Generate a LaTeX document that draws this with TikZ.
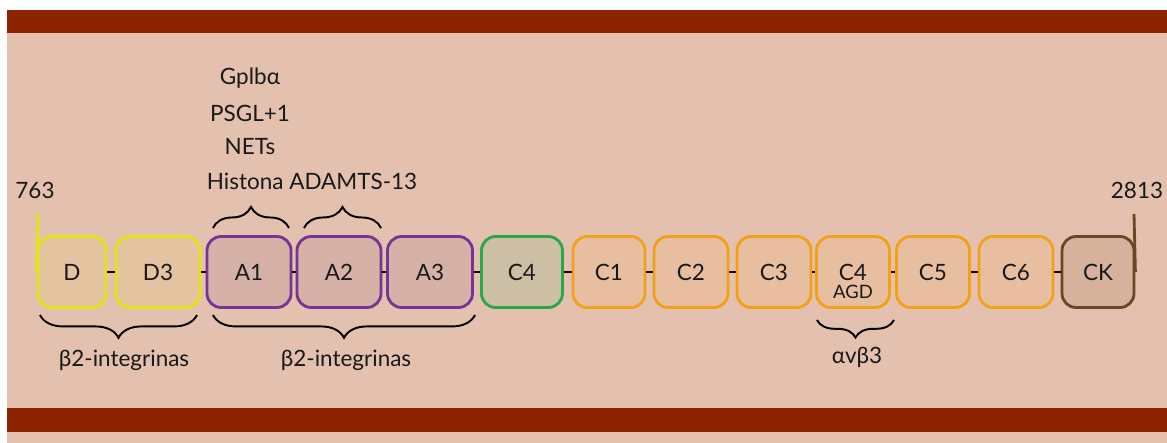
\documentclass[tikz,border=0pt]{standalone}
\usepackage{fontspec}
\setmainfont{Lato}
\usetikzlibrary{decorations.pathreplacing}

\definecolor{bgsalmon}{RGB}{227,193,174}
\definecolor{bandred}{RGB}{139,35,0}
\definecolor{dyel}{RGB}{228,228,20}
\definecolor{dyelfill}{RGB}{228,196,160}
\definecolor{apur}{RGB}{118,52,148}
\definecolor{apurfill}{RGB}{214,177,168}
\definecolor{cgrn}{RGB}{40,168,70}
\definecolor{cgrnfill}{RGB}{205,190,166}
\definecolor{corg}{RGB}{244,160,22}
\definecolor{corgfill}{RGB}{231,191,160}
\definecolor{kbrn}{RGB}{108,70,36}
\definecolor{kbrnfill}{RGB}{214,178,156}

\begin{document}
\begin{tikzpicture}[x=0.02cm, y=-0.02cm,
  every node/.style={font=\fontsize{12.8}{15}\selectfont, text=black!90},
  dom/.style={rounded corners=8pt, line width=1.6pt, minimum height=71*0.02cm, inner sep=0pt},
  dbox/.style={dom, draw=dyel, fill=dyelfill},
  abox/.style={dom, draw=apur, fill=apurfill},
  gbox/.style={dom, draw=cgrn, fill=cgrnfill},
  cbox/.style={dom, draw=corg, fill=corgfill},
  kbox/.style={dom, draw=kbrn, fill=kbrnfill},
  lbl/.style={inner sep=0pt},
  brc/.style={decorate, decoration={brace, amplitude=#1}, line width=1.1pt}]
  \useasboundingbox (0,0) rectangle (1167,443);
  % vessel wall
  \fill[bgsalmon] (7,10) rectangle (1167,443);
  \fill[bandred] (7,10) rectangle (1167,33);
  \fill[bandred] (7,408) rectangle (1167,432);

  % domains
  \foreach \nm/\cx/\bw/\tx/\st in {D/72/68/D/dbox, D3/158/84/D3/dbox,
      A1/249/84/A1/abox, A2/339/84/A2/abox, A3/430/85/A3/abox,
      C4g/522/81/C4/gbox, C1/609/72/C1/cbox, C2/691/74/C2/cbox,
      C3/774/74/C3/cbox, C4o/853/73/C4/cbox, C5/933/73/C5/cbox,
      C6/1016/74/C6/cbox, CK/1098/72/CK/kbox}
    \node[\st, minimum width=\bw*0.02cm] (\nm) at (\cx,272) {\tx};
  \node[lbl, font=\fontsize{10.5}{12}\selectfont] (agd) at (853,292) {AGD};

  \foreach \a/\b in {D/D3, D3/A1, A1/A2, A2/A3, A3/C4g, C4g/C1, C1/C2,
      C2/C3, C3/C4o, C4o/C5, C5/C6, C6/CK}
    \draw[line width=0.8pt] (\a) -- (\b);

  % ends of the chain
  \node[lbl] (n763) at (35,190) {763};
  \node[lbl] (n2813) at (1137,190) {2813};
  \coordinate (nl) at (38,213);
  \coordinate (nr) at (1134,214);
  \draw[dyel, line width=1.6pt] (nl) -- (D.west);
  \draw[kbrn, line width=1.6pt] (nr) -- (CK.east);

  % ligands
  \node[lbl] (gp) at (250,78) {Gplbα};
  \node[lbl] (psgl) at (250,113) {PSGL+1};
  \node[lbl] (nets) at (250,147) {NETs};
  \node[lbl] (hist) at (312,181) {Histona ADAMTS-13};
  \draw[brc=12pt] (213,228) -- (289,228);
  \draw[brc=12pt] (304,228) -- (381,228);

  \draw[brc=13pt] (197,315) -- (40,315);
  \draw[brc=13pt] (475,315) -- (213,315);
  \draw[brc=10pt] (894,320) -- (817,320);
  \node[lbl] (int1) at (124,360) {β2-integrinas};
  \node[lbl] (int2) at (346,360) {β2-integrinas};
  \node[lbl] (avb3) at (857,357) {αvβ3};
\end{tikzpicture}
\end{document}
